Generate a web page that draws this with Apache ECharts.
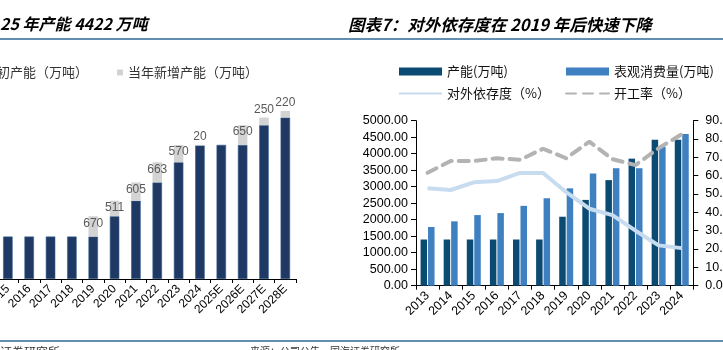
<!DOCTYPE html>
<html>
<head>
<meta charset="utf-8">
<script src="https://cdn.jsdelivr.net/npm/echarts@6.0.0/dist/echarts.min.js"></script>
<style>
  html, body { margin: 0; padding: 0; background: #fff; }
  #chart { width: 723px; height: 350px; }
</style>
</head>
<body>
<div id="chart"></div>
<script>
// 左图：历年产能（年初 + 当年新增），右图：产能/表观消费量/对外依存度/开工率
const capYears = ['2013', '2014', '2015', '2016', '2017', '2018', '2019', '2020', '2021',
  '2022', '2023', '2024', '2025E', '2026E', '2027E', '2028E'];
const capBase = [1400, 1400, 1400, 1400, 1400, 1400, 1400, 2070, 2581, 3186, 3849, 4402, 4422, 4422, 5072, 5322];
const capAdd = [0, 0, 0, 0, 0, 0, 670, 511, 605, 663, 570, 20, 0, 650, 250, 220];

const years = ['2013', '2014', '2015', '2016', '2017', '2018', '2019', '2020', '2021', '2022', '2023', '2024'];
const capacity = [1400, 1400, 1400, 1400, 1400, 1400, 2090, 2600, 3200, 3850, 4420, 4420];
const consumption = [1780, 1950, 2140, 2200, 2420, 2650, 2950, 3400, 3560, 3560, 4200, 4600];
const importDep = [53.1, 52.2, 56.4, 57.1, 61.5, 61.5, 51.0, 42.0, 38.5, 30.0, 22.0, 20.5];
const utilization = [61.6, 68.0, 68.0, 69.5, 68.7, 74.7, 69.5, 78.6, 69.0, 65.8, 75.0, 82.6];

const FONT = 'Liberation Sans, Noto Sans CJK SC, sans-serif';
const CJK = 'Noto Sans CJK SC, sans-serif';
const NAVY = '#203864', GREY = '#d3d3d3';
const DARK = '#0b4a72', BLUE = '#3f80c0', PALE = '#c8dcf0', DASH = '#b3b3b3';

const chart = echarts.init(document.getElementById('chart'), null, { renderer: 'canvas' });

const catAxisBase = {
  type: 'category',
  axisLine: { lineStyle: { color: '#000', width: 1 } },
  axisTick: { show: true, length: 4, lineStyle: { color: '#000' } },
  axisLabel: { rotate: 45, interval: 0, color: '#000', fontFamily: FONT, margin: 8 },
};
// 折线图例只画线，不画符号
const lineLegendItem = name => ({ name, itemStyle: { opacity: 0, borderWidth: 0 } });

chart.setOption({
  animation: false,
  graphic: [
    { type: 'line', shape: { x1: 0, y1: 39, x2: 723, y2: 39 }, style: { stroke: '#2c6a94', lineWidth: 1.5 } },
    { type: 'line', shape: { x1: 0, y1: 341, x2: 723, y2: 341 }, style: { stroke: '#2c6a94', lineWidth: 1.5 } },
    { type: 'text', left: 0, top: 16, style: { text: '25 年产能 4422 万吨', font: 'italic bold 16px ' + CJK, fill: '#000' } },
    { type: 'text', left: 348, top: 16, style: { text: '图表7：对外依存度在 2019 年后快速下降', font: 'italic bold 16.5px ' + CJK, fill: '#000' } },
    { type: 'text', left: -24, top: 346, style: { text: '国海证券研究所', font: '12px ' + CJK, fill: '#333' } },
    { type: 'text', left: 250, top: 346, style: { text: '来源：公司公告，国海证券研究所', font: '10px ' + CJK, fill: '#333' } },
  ],
  legend: [
    {
      left: -33, top: 61, itemWidth: 6, itemHeight: 6, itemGap: 29, icon: 'rect',
      textStyle: { fontFamily: CJK, fontSize: 13, color: '#333' },
      data: ['年初产能（万吨）', '当年新增产能（万吨）'],
    },
    {
      left: 393, top: 60, orient: 'vertical', itemWidth: 43, itemHeight: 8, itemGap: 9,
      textStyle: { fontFamily: CJK, fontSize: 13, color: '#111' },
      data: [{ name: '产能(万吨)', icon: 'rect' }, lineLegendItem('对外依存度（%）')],
    },
    {
      left: 560, top: 60, orient: 'vertical', itemWidth: 43, itemHeight: 8, itemGap: 9,
      textStyle: { fontFamily: CJK, fontSize: 13, color: '#111' },
      data: [{ name: '表观消费量(万吨)', icon: 'rect' }, lineLegendItem('开工率（%）')],
    },
  ],
  grid: [
    { left: -45.5, width: 341.5, top: 97, height: 182, outerBoundsMode: 'none' },
    { left: 416, width: 277.3, top: 120.7, height: 165, outerBoundsMode: 'none' },
  ],
  xAxis: [
    { ...catAxisBase, gridIndex: 0, data: capYears,
      axisLabel: { ...catAxisBase.axisLabel, fontSize: 12 } },
    { ...catAxisBase, gridIndex: 1, data: years,
      axisLabel: { ...catAxisBase.axisLabel, fontSize: 12.5 } },
  ],
  yAxis: [
    { type: 'value', gridIndex: 0, min: 0, max: 6000, show: false },
    {
      type: 'value', gridIndex: 1, min: 0, max: 5000, interval: 500,
      axisLine: { show: true, lineStyle: { color: '#000' } },
      axisTick: { show: true, length: 5, lineStyle: { color: '#000' } },
      axisLabel: { formatter: v => v.toFixed(2), color: '#000', fontFamily: FONT, fontSize: 12.5, margin: 8 },
      splitLine: { show: false },
    },
    {
      type: 'value', gridIndex: 1, position: 'right', min: 0, max: 90, interval: 10,
      axisLine: { show: true, lineStyle: { color: '#000' } },
      axisTick: { show: true, length: 5, lineStyle: { color: '#000' } },
      axisLabel: { formatter: v => v.toFixed(2), color: '#000', fontFamily: FONT, fontSize: 12.5, margin: 12 },
      splitLine: { show: false },
    },
  ],
  series: [
    {
      name: '年初产能（万吨）', type: 'bar', stack: 'cap', xAxisIndex: 0, yAxisIndex: 0,
      data: capBase, barWidth: 9.5,
      itemStyle: { color: NAVY, borderColor: '#34638e', borderWidth: 0.6 },
    },
    {
      name: '当年新增产能（万吨）', type: 'bar', stack: 'cap', xAxisIndex: 0, yAxisIndex: 0,
      barWidth: 9.5, itemStyle: { color: GREY },
      label: {
        show: true, position: 'insideTop', distance: 1,
        color: '#595959', fontFamily: FONT, fontSize: 12,
        formatter: p => (p.value > 0 ? p.value : ''),
      },
      // 小增量的标签放到柱顶之上
      data: capAdd.map(v => (v > 0 && v < 300 ? { value: v, label: { position: 'top', distance: 2 } } : v)),
    },
    {
      name: '产能(万吨)', type: 'bar', xAxisIndex: 1, yAxisIndex: 1,
      data: capacity, barWidth: 6.5, barGap: '15%', itemStyle: { color: DARK },
    },
    {
      name: '表观消费量(万吨)', type: 'bar', xAxisIndex: 1, yAxisIndex: 1,
      data: consumption, barWidth: 6.5, barGap: '15%', itemStyle: { color: BLUE },
    },
    {
      name: '对外依存度（%）', type: 'line', xAxisIndex: 1, yAxisIndex: 2,
      data: importDep, symbol: 'none', z: 5,
      itemStyle: { color: PALE },
      lineStyle: { color: PALE, width: 4 },
    },
    {
      name: '开工率（%）', type: 'line', xAxisIndex: 1, yAxisIndex: 2,
      data: utilization, symbol: 'none', z: 6,
      itemStyle: { color: DASH },
      lineStyle: { color: DASH, width: 4, type: [10, 7], cap: 'round' },
    },
  ],
});
</script>
</body>
</html>
